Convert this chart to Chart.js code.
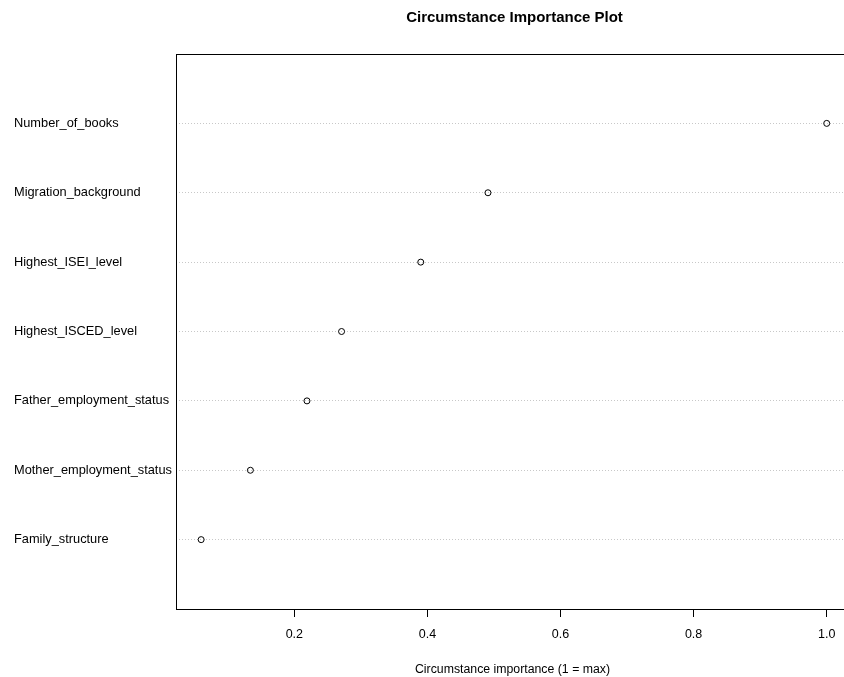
<!DOCTYPE html>
<html>
<head>
<meta charset="utf-8">
<title>Circumstance Importance Plot</title>
<script src="https://cdn.jsdelivr.net/npm/chart.js@4.4.0/dist/chart.umd.min.js"></script>
<style>
	html, body { margin: 0; padding: 0; background: #fff; overflow: hidden; }
	#wrap { width: 844px; height: 677px; overflow: hidden; }
</style>
</head>
<body>
<div id="wrap"><canvas id="myChart" width="853" height="677"></canvas></div>
<script>
// data, top row first
var circumstances = ['Number_of_books', 'Migration_background', 'Highest_ISEI_level', 'Highest_ISCED_level',
	'Father_employment_status', 'Mother_employment_status', 'Family_structure'];
var importance = [1.0, 0.491, 0.390, 0.271, 0.219, 0.134, 0.060];
var xTicks = [0.2, 0.4, 0.6, 0.8, 1.0];
var plotTitle = 'Circumstance Importance Plot';

var n = circumstances.length;
var fontFamily = 'Liberation Sans, Arial, sans-serif';

// row i (top first) sits at y = n - i, like dotchart
var points = importance.map(function(v, i){
	return { x: v, y: n - i };
});

// box round the plot region + title centred over it
var boxPlugin = {
	id: 'box',
	afterDraw: function(chart){
		var a = chart.chartArea, ctx = chart.ctx;
		ctx.save();
		ctx.strokeStyle = '#000';
		ctx.lineWidth = 1;
		ctx.strokeRect(Math.round(a.left) + 0.5, Math.round(a.top) + 0.5,
			Math.round(a.right - a.left), Math.round(a.bottom - a.top));

		ctx.fillStyle = '#000';
		ctx.font = 'bold 15px ' + fontFamily;
		ctx.textAlign = 'center';
		ctx.textBaseline = 'middle';
		ctx.fillText(plotTitle, (a.left + a.right) / 2 + 2, 18);
		ctx.restore();
	}
};

var ctx = document.getElementById('myChart').getContext('2d');
var chart = new Chart(ctx, {
	type: 'scatter',
	data: {
		datasets: [{
			data: points,
			pointStyle: 'circle',
			pointRadius: 3,
			pointHoverRadius: 3,
			borderWidth: 1,
			borderColor: '#000',
			backgroundColor: 'rgba(0,0,0,0)'
		}]
	},
	options: {
		responsive: false,
		animation: false,
		layout: { padding: { left: 14, right: 1, top: 54, bottom: 0 } },
		plugins: {
			legend: { display: false },
			tooltip: { enabled: false },
			title: { display: false }
		},
		scales: {
			x: {
				type: 'linear',
				min: 0.0222,
				max: 1.0335,
				afterBuildTicks: function(scale){
					scale.ticks = xTicks.map(function(v){ return { value: v }; });
				},
				afterFit: function(scale){ scale.height = 68; },
				ticks: {
					color: '#000',
					padding: 10,
					font: { family: fontFamily, size: 12.5 },
					callback: function(v){ return v.toFixed(1); }
				},
				grid: { drawOnChartArea: false, tickLength: 8, color: '#000', lineWidth: 1 },
				border: { display: false },
				title: {
					display: true,
					text: 'Circumstance importance (1 = max)',
					color: '#000',
					font: { family: fontFamily, size: 12.3 },
					padding: { top: 0, bottom: 0 }
				}
			},
			y: {
				type: 'linear',
				min: 0,
				max: n + 1,
				afterBuildTicks: function(scale){
					var t = [];
					for (var i = 1; i <= n; i++) t.push({ value: i });
					scale.ticks = t;
				},
				afterFit: function(scale){ scale.width = 162; },
				ticks: {
					color: '#000',
					crossAlign: 'far',
					font: { family: fontFamily, size: 12.8 },
					callback: function(v){ return circumstances[n - v]; }
				},
				grid: { drawTicks: false, color: '#c8c8c8', lineWidth: 1 },
				border: { display: false, dash: [1, 2] }
			}
		}
	},
	plugins: [boxPlugin]
});
</script>
</body>
</html>
